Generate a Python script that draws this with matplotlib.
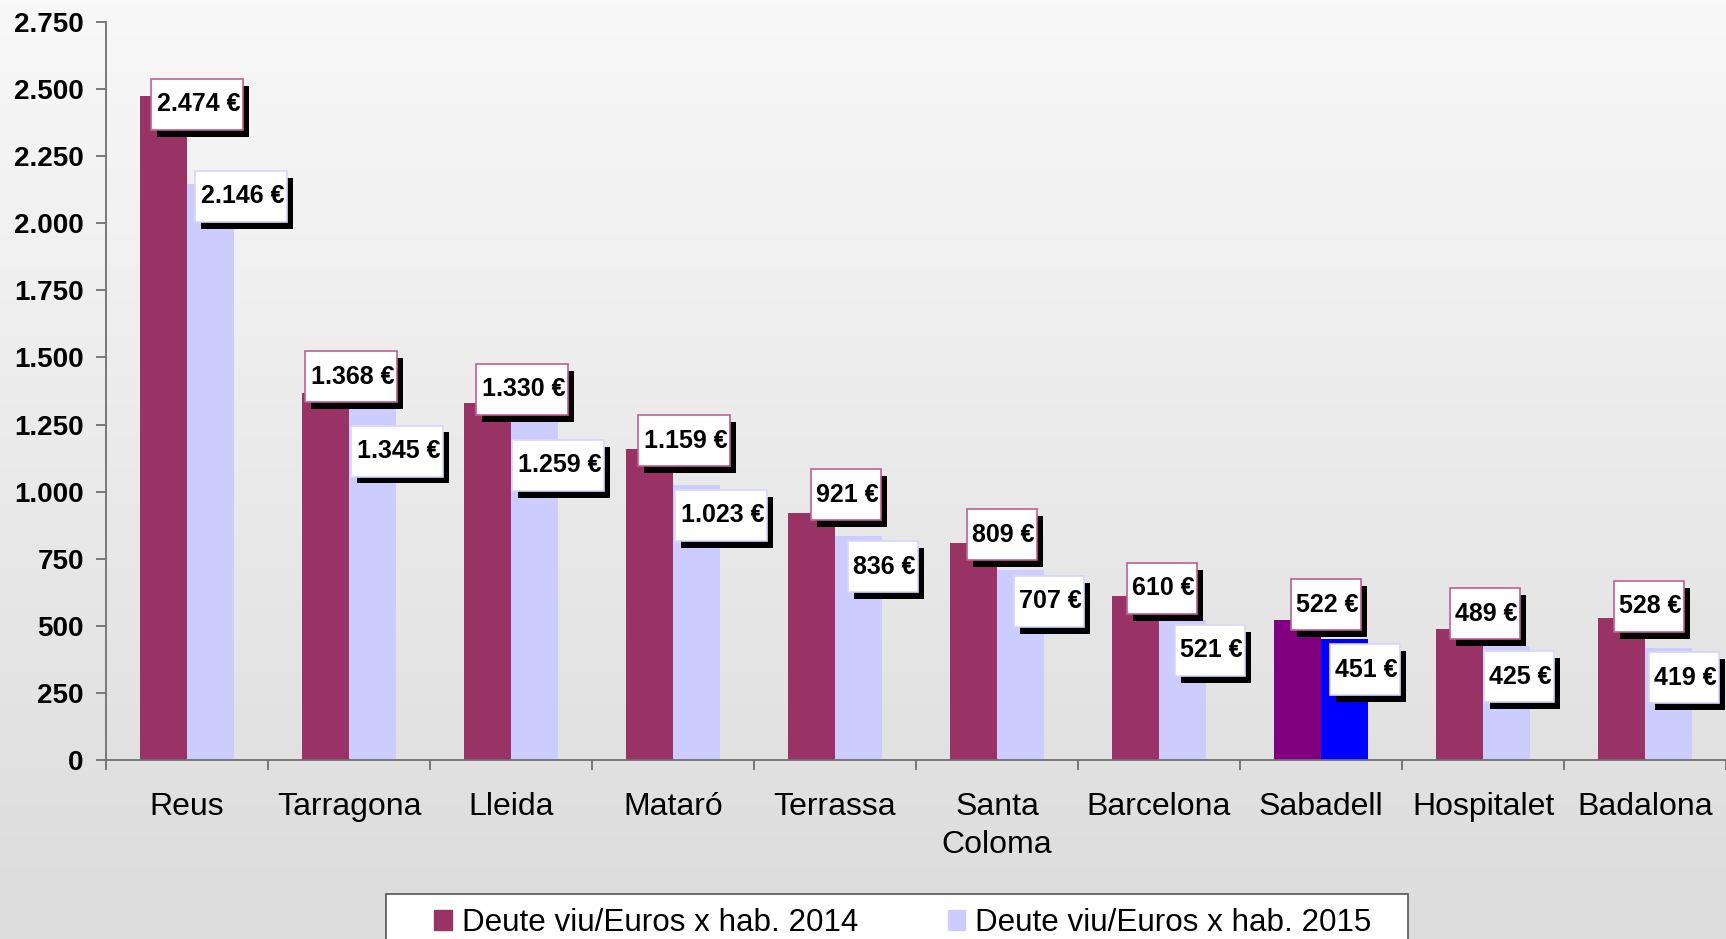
import numpy as np
import matplotlib
matplotlib.use("Agg")
import matplotlib.pyplot as plt
import matplotlib.patheffects as pe
from matplotlib.path import Path
from matplotlib.patches import Patch, Rectangle
from matplotlib.ticker import FuncFormatter, MultipleLocator

plt.rcParams['font.family'] = ['Liberation Sans', 'DejaVu Sans']

# ─── Data ───
cities = ["Reus", "Tarragona", "Lleida", "Mataró", "Terrassa", "Santa\nColoma",
          "Barcelona", "Sabadell", "Hospitalet", "Badalona"]
debt_2014 = [2474, 1368, 1330, 1159, 921, 809, 610, 522, 489, 528]
debt_2015 = [2146, 1345, 1259, 1023, 836, 707, 521, 451, 425, 419]
series_names = ["Deute viu/Euros x hab. 2014", "Deute viu/Euros x hab. 2015"]
highlight = "Sabadell"

# label offsets (pixels) from bar top: (dx right, dy down)
off_2014 = [(35, 8), (27, -16), (36, -14), (36, -8), (36, -18), (30, -8),
            (28, -8), (30, -15), (27, -15), (29, -12)]
off_2015 = [(32, 12), (26, 52), (25, 43), (26, 30), (26, 31), (30, 31),
            (29, 30), (22, 31), (14, 31), (17, 30)]

C14, C15 = "#993366", "#CCCCFF"
C14_HI, C15_HI = "#800080", "#0000FF"

W, H = 1726, 939
fig = plt.figure(figsize=(W / 100, H / 100), dpi=100)

# background gradient
bg = fig.add_axes([0, 0, 1, 1], zorder=-10)
grad = np.linspace(0, 1, 256).reshape(-1, 1)
top, bot = np.array([248, 248, 248]) / 255, np.array([220, 220, 220]) / 255
img = top + (bot - top) * grad[..., None]
bg.imshow(img.reshape(256, 1, 3), aspect='auto', extent=[0, 1, 0, 1])
bg.axis('off')

ax = fig.add_axes([106 / W, (H - 760) / H, 1620 / W, 738 / H])
ax.patch.set_alpha(0)

x = np.arange(len(cities)) + 0.5
bw = 0.29
cols14 = [C14_HI if c == highlight else C14 for c in cities]
cols15 = [C15_HI if c == highlight else C15 for c in cities]
ax.bar(x - bw / 2, debt_2014, bw, color=cols14, zorder=2)
ax.bar(x + bw / 2, debt_2015, bw, color=cols15, zorder=2)


def label_box(x0, y0, width, height, mutation_size):
    ms = mutation_size
    cy = y0 + height / 2
    h = 2.04 * ms
    l, r = x0 - 0.22 * ms, x0 + width + 0.1 * ms
    b, t = cy - h / 2, cy + h / 2
    return Path([(l, b), (r, b), (r, t), (l, t), (l, b)], closed=True)


def fmt(v):
    return f"{v:,.0f}".replace(",", ".")


shadow = [pe.SimplePatchShadow(offset=(4.3, -5.0), shadow_rgbFace='black', alpha=1),
          pe.Normal()]


def put_labels(xs, vals, offs, edge, z):
    for xi, v, (dx, dy) in zip(xs, vals, offs):
        t = ax.annotate(fmt(v) + " €", (xi, v), xytext=(dx, -dy), textcoords='offset pixels',
                        ha='center', va='center', fontsize=18, fontweight='bold',
                        color='black', annotation_clip=False, zorder=z,
                        bbox=dict(boxstyle=label_box, fc='white', ec=edge, lw=1.2))
        t.get_bbox_patch().set_path_effects(shadow)


put_labels(x - bw / 2, debt_2014, off_2014, "#C06090", 4)
put_labels(x + bw / 2, debt_2015, off_2015, "#D6D6FF", 6)

ax.set_xlim(0, len(cities))
ax.set_ylim(0, 2750)
ax.yaxis.set_major_locator(MultipleLocator(250))
ax.yaxis.set_major_formatter(FuncFormatter(lambda v, p: fmt(v)))
for s in ('top', 'right'):
    ax.spines[s].set_visible(False)
for s in ('left', 'bottom'):
    ax.spines[s].set_color('#707070')
    ax.spines[s].set_linewidth(1.3)

ax.set_xticks(np.arange(len(cities) + 1))
ax.set_xticklabels([])
ax.set_xticks(x, minor=True)
ax.set_xticklabels(cities, minor=True, fontsize=23, linespacing=1.34)
ax.tick_params(axis='x', which='major', length=7, width=1.3, color='#707070')
ax.tick_params(axis='x', which='minor', length=0, pad=23)
ax.tick_params(axis='y', length=7, width=1.3, color='#707070', pad=9, labelsize=20)
for t in ax.get_yticklabels():
    t.set_fontweight('bold')

# legend
fig.add_artist(Rectangle((386 / W, (H - 952) / H), 1022 / W, 58 / H,
                         transform=fig.transFigure, fc='white', ec='#555555',
                         lw=1.2, zorder=1))
handles = [Patch(color=C14), Patch(color=C15)]
leg = fig.legend(handles, series_names, loc='center', bbox_to_anchor=(903 / W, 1 - 923 / H),
                 ncol=2, frameon=False, fontsize=22.6, handlelength=0.55, handleheight=0.62,
                 handletextpad=0.33, columnspacing=2.85, borderpad=0)
leg.set_zorder(2)

plt.savefig("out.png", dpi=100)
